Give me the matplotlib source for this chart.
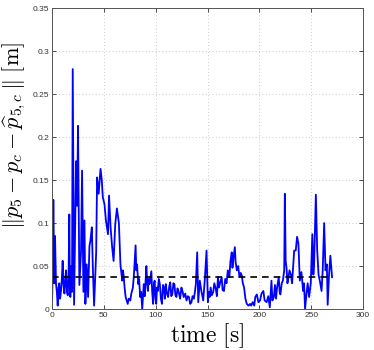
import matplotlib
matplotlib.use('Agg')
import matplotlib.pyplot as plt

# time [s] and position error [m] (line-aligned)
time_s = [
    0, 0.6, 1.3, 2.2, 2.9, 3.9, 4.7, 5.5, 6.3, 7, 7.8, 8.8, 9.5, 10.3, 11, 12,
    12.8, 13.6, 14.4, 15.2, 16, 16.7, 17.2, 17.7, 18.2, 18.7, 19.3, 20, 21.3,
    23.2, 24.2, 25.1, 26.4, 28, 29, 30.3, 31.3, 32.2, 33.5, 34.8, 36.1, 37.1,
    38.4, 39.4, 40.6, 42.6, 43.5, 45, 46.8, 48, 49, 50.6, 52, 54, 55, 56.5,
    58, 59.4, 61, 62.6, 64.5, 66, 67.7, 68.3, 69, 70, 71, 72, 73, 74, 75.5,
    76.5, 78, 79, 80.6, 81.3, 82, 83.2, 84, 85, 86, 87, 88, 88.5, 89.5, 91,
    91.8, 92.5, 93.2, 94, 95.8, 96.6, 97.5, 98.3, 99, 99.8, 100.5, 101.2, 102,
    103, 104, 105, 106, 107, 108, 108.8, 109.7, 110.8, 112, 113, 114, 115,
    116, 117, 118, 119, 120, 121, 122, 123.5, 124.8, 126, 127, 128.5, 129.7,
    131, 132, 133.3, 134.5, 135.5, 136.8, 137.8, 138.7, 139.4, 140, 141,
    142.5, 144, 145.8, 147.5, 149, 150.3, 151, 152, 153, 154, 155.5, 156.5,
    158, 159, 160, 161, 162, 163.6, 164.5, 165.8, 167, 168.3, 169.5, 171,
    172, 173.3, 174, 175, 176.3, 177, 178.2, 179.5, 180.8, 182, 183, 184,
    185.2, 186.5, 187.8, 189.5, 191, 192, 193.5, 195, 196, 197.5, 199, 200.6,
    202, 203.8, 205, 207, 208.5, 210, 211.6, 212.5, 213.9, 215, 216, 217,
    218.6, 219.5, 220.2, 221.5, 222.6, 223.9, 224.5, 225.3, 226.2, 227, 228,
    229, 230.3, 231.5, 232.5, 233.5, 235, 236.3, 237.6, 238.9, 240.5, 242.1,
    243, 244, 245.3, 246.5, 247.9, 249.5, 251, 252, 252.7, 254.4, 255.7, 257,
    258.2, 259.9, 261, 262.4, 263.7, 265, 265.8, 267.1, 268.4, 270]
error_m = [
    0.0, 0.04, 0.127, 0.03, 0.085, 0.029, 0.02, 0.004, 0.025, 0.03, 0.012, 0.022,
    0.035, 0.056, 0.03, 0.018, 0.035, 0.045, 0.02, 0.016, 0.04, 0.11, 0.03,
    0.014, 0.04, 0.05, 0.02, 0.279, 0.005, 0.172, 0.12, 0.213, 0.028, 0.067,
    0.161, 0.02, 0.103, 0.006, 0.052, 0.014, 0.073, 0.08, 0.095, 0.048, 0.004,
    0.066, 0.153, 0.134, 0.163, 0.15, 0.13, 0.122, 0.103, 0.087, 0.132, 0.095,
    0.072, 0.056, 0.099, 0.117, 0.1, 0.052, 0.033, 0.045, 0.04, 0.025, 0.014,
    0.01, 0.006, 0.012, 0.01, 0.018, 0.025, 0.04, 0.074, 0.045, 0.052, 0.029,
    0.035, 0.014, 0.02, 0.0, 0.02, 0.029, 0.015, 0.05, 0.03, 0.021, 0.035,
    0.029, 0.044, 0.02, 0.006, 0.03, 0.033, 0.012, 0.006, 0.025, 0.021, 0.035,
    0.029, 0.012, 0.006, 0.028, 0.025, 0.012, 0.029, 0.018, 0.014, 0.026,
    0.031, 0.015, 0.017, 0.03, 0.029, 0.016, 0.014, 0.024, 0.021, 0.012,
    0.025, 0.02, 0.014, 0.018, 0.01, 0.015, 0.014, 0.006, 0.008, 0.015, 0.012,
    0.02, 0.029, 0.05, 0.066, 0.008, 0.033, 0.021, 0.01, 0.037, 0.068, 0.008,
    0.02, 0.014, 0.025, 0.016, 0.02, 0.03, 0.023, 0.015, 0.037, 0.025, 0.03,
    0.037, 0.022, 0.021, 0.035, 0.03, 0.045, 0.037, 0.055, 0.066, 0.048, 0.06,
    0.072, 0.055, 0.045, 0.05, 0.037, 0.042, 0.039, 0.03, 0.025, 0.012, 0.006,
    0.004, 0.006, 0.004, 0.008, 0.004, 0.014, 0.017, 0.008, 0.01, 0.018,
    0.021, 0.01, 0.008, 0.015, 0.002, 0.033, 0.01, 0.014, 0.028, 0.012, 0.025,
    0.037, 0.02, 0.017, 0.03, 0.033, 0.045, 0.134, 0.056, 0.047, 0.03, 0.037,
    0.045, 0.04, 0.03, 0.05, 0.068, 0.068, 0.084, 0.076, 0.033, 0.043, 0.021,
    0.03, 0.0, 0.017, 0.03, 0.014, 0.03, 0.087, 0.04, 0.052, 0.133, 0.068,
    0.04, 0.033, 0.021, 0.045, 0.1, 0.045, 0.052, 0.005, 0.04, 0.062, 0.037]
assert len(time_s) == len(error_m)

mean_error = 0.0375
mean_span = [0, 266]

plt.rcParams['mathtext.fontset'] = 'cm'
plt.rcParams['font.family'] = ['Liberation Sans', 'DejaVu Sans']

fig = plt.figure(figsize=(3.74, 3.5), dpi=100)
ax = fig.add_axes([0.139, 0.117, 0.832, 0.86])

ax.plot(time_s, error_m, color='#0000ff', linewidth=1.3)
ax.plot(mean_span, [mean_error, mean_error], color='black', linewidth=1.2,
        linestyle=(0, (4, 3)))

ax.set_xlim(0, 300)
ax.set_ylim(0, 0.35)
ax.set_xticks([0, 50, 100, 150, 200, 250, 300])
ax.set_yticks([0, 0.05, 0.1, 0.15, 0.2, 0.25, 0.3, 0.35])
ax.set_yticklabels(['0', '0.05', '0.1', '0.15', '0.2', '0.25', '0.3', '0.35'])
ax.tick_params(direction='in', length=3, width=0.6, labelsize=6, pad=2,
               top=True, right=True, colors='#333333')
ax.grid(True, linestyle=(0, (1, 3)), color='#bbbbbb', linewidth=0.6)
for s in ax.spines.values():
    s.set_color('#555555')
    s.set_linewidth(0.7)

ax.set_xlabel(r'$\mathrm{time}\ [\mathrm{s}]$', fontsize=17, labelpad=2)
ax.set_ylabel(r'$\|p_5 - p_c - \widehat{p}_{5,c}\,\|\ [\mathrm{m}]$', fontsize=16)
ax.yaxis.set_label_coords(-0.077, 0.578)

fig.savefig('out.png', dpi=100)
